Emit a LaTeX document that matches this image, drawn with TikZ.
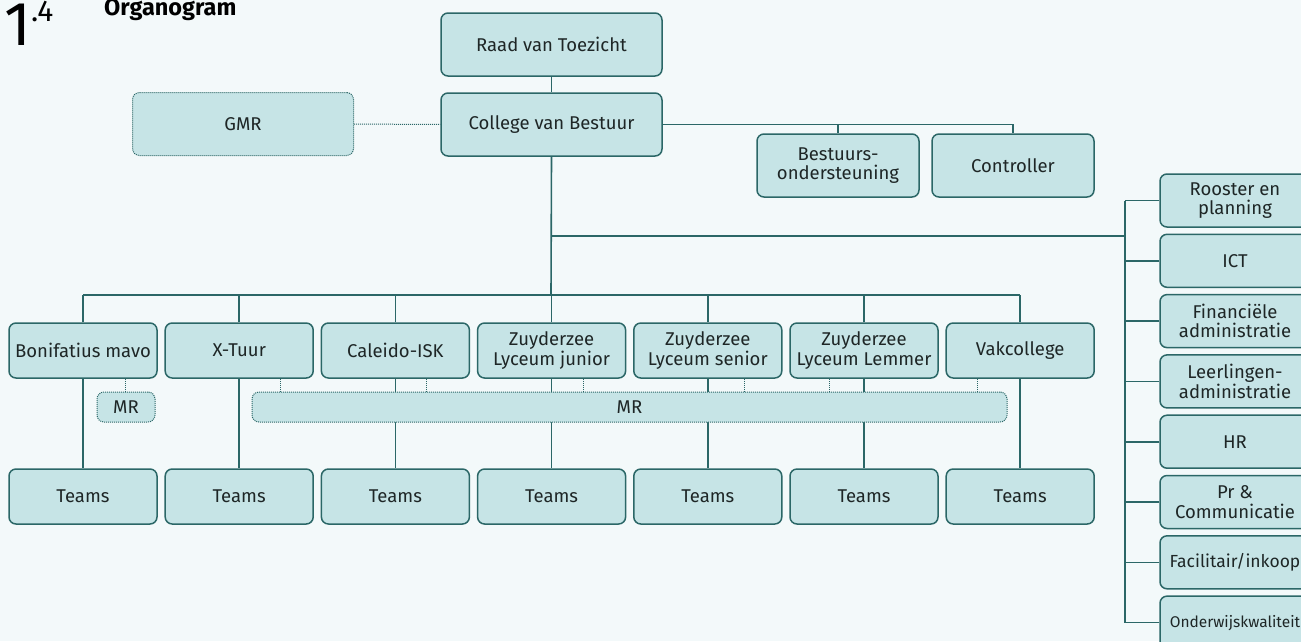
\documentclass[tikz,border=0pt]{standalone}
\usepackage{fontspec}
\setmainfont{Fira Sans}
\usetikzlibrary{positioning}
\definecolor{achter}{HTML}{F3F9FA}
\definecolor{vlak}{HTML}{C6E4E6}
\definecolor{rand}{HTML}{2B6767}
\definecolor{tekst}{HTML}{1E2626}
\begin{document}
\begin{tikzpicture}[x=1pt, y=-1pt,
    blok/.style={draw=rand, fill=vlak, rounded corners=7pt, line width=1.5pt, align=center,
        text=tekst, inner sep=0pt, font=\fontsize{18.5}{19.5}\selectfont},
    school/.style={blok, minimum width=148pt, minimum height=55pt},
    staf/.style={blok, minimum width=150pt, minimum height=53pt},
    raad/.style={blok, minimum width=221pt, minimum height=63pt},
    stip/.style={draw=rand, line width=1pt, densely dotted},
    mrblok/.style={blok, stip, minimum height=30pt},
    lijn/.style={draw=rand, line width=1.6pt}]
    \fill[achter] (0,0) rectangle (1301,641);
    \useasboundingbox (0,0) rectangle (1301,641);

    \node[anchor=base west, font=\fontsize{62}{62}\selectfont, inner sep=0pt] (nummer) at (4,45) {1};
    \node[anchor=base west, font=\fontsize{30}{30}\selectfont, inner sep=0pt] (sub) at (31,21) {.4};
    \node[anchor=base west, font=\fontsize{23.5}{23.5}\selectfont\bfseries, inner sep=0pt] (titel) at (104,15) {Organogram};

    \node[raad] (toezicht) at (551.5,44.5) {Raad van Toezicht};
    \node[raad] (cvb) at (551.5,124.5) {College van Bestuur};
    \node[raad, stip, fill=vlak] (gmr) at (243,124) {GMR};
    \node[blok, minimum width=162pt, minimum height=63pt] (steun) at (838,165.5) {Bestuurs-\\ondersteuning};
    \node[blok, minimum width=162pt, minimum height=63pt] (controller) at (1013,165.5) {Controller};

    \foreach \naam [count=\i] in {Bonifatius mavo, X-Tuur, Caleido-ISK, Zuyderzee\\Lyceum junior,
        Zuyderzee\\Lyceum senior, Zuyderzee\\Lyceum Lemmer, Vakcollege} {
        \node[school] (s\i) at ({83+156.2*(\i-1)},350.5) {\naam};
        \node[school] (t\i) at ({83+156.2*(\i-1)},496.5) {Teams};
    }

    \foreach \naam [count=\i] in {Rooster en\\planning, ICT, Financiële\\administratie, Leerlingen-\\administratie,
        HR, Pr \&\\Communicatie, {\fontsize{17.5}{19}\selectfont Facilitair/inkoop},
        {\fontsize{15.5}{19}\selectfont Onderwijskwaliteit}}
        \node[staf] (r\i) at (1235,{200.5+60.3*(\i-1)}) {\naam};

    \coordinate (balk) at (551,295);
    \coordinate (tak) at (551,236);
    \coordinate (rug) at (1125,236);

    \draw[lijn] (toezicht) -- (cvb);
    \draw[stip] (gmr) -- (cvb);
    \draw[lijn] (cvb.east) -- (controller.north |- cvb.east) -- (controller.north);
    \draw[lijn] (steun.north |- cvb.east) -- (steun.north);
    \draw[lijn] (cvb.south) -- (balk);
    \draw[lijn] (tak) -- (rug);
    \draw[lijn] (r1.west -| rug) -- (r8.west -| rug);
    \foreach \i in {1,...,8}
        \draw[lijn] (r\i.west) -- (r\i.west -| rug);
    \draw[lijn] (s1.north |- balk) -- (s7.north |- balk);
    \foreach \i in {1,...,7} {
        \draw[lijn] (s\i.north) -- (s\i.north |- balk);
        \draw[lijn] (s\i.south) -- (t\i.north);
    }

    \node[mrblok, minimum width=58pt] (mr1) at (126,407) {MR};
    \node[mrblok, minimum width=755pt] (mr) at (629.5,407) {MR};

    \draw[stip] ([xshift=42pt]s1.south) -- ([xshift=42pt]s1.south |- mr1.north);
    \foreach \s/\dx in {2/41, 3/31, 4/32, 5/37, 6/-35, 7/-43}
        \draw[stip] ([xshift=\dx pt]s\s.south) -- ([xshift=\dx pt]s\s.south |- mr.north);
\end{tikzpicture}
\end{document}
